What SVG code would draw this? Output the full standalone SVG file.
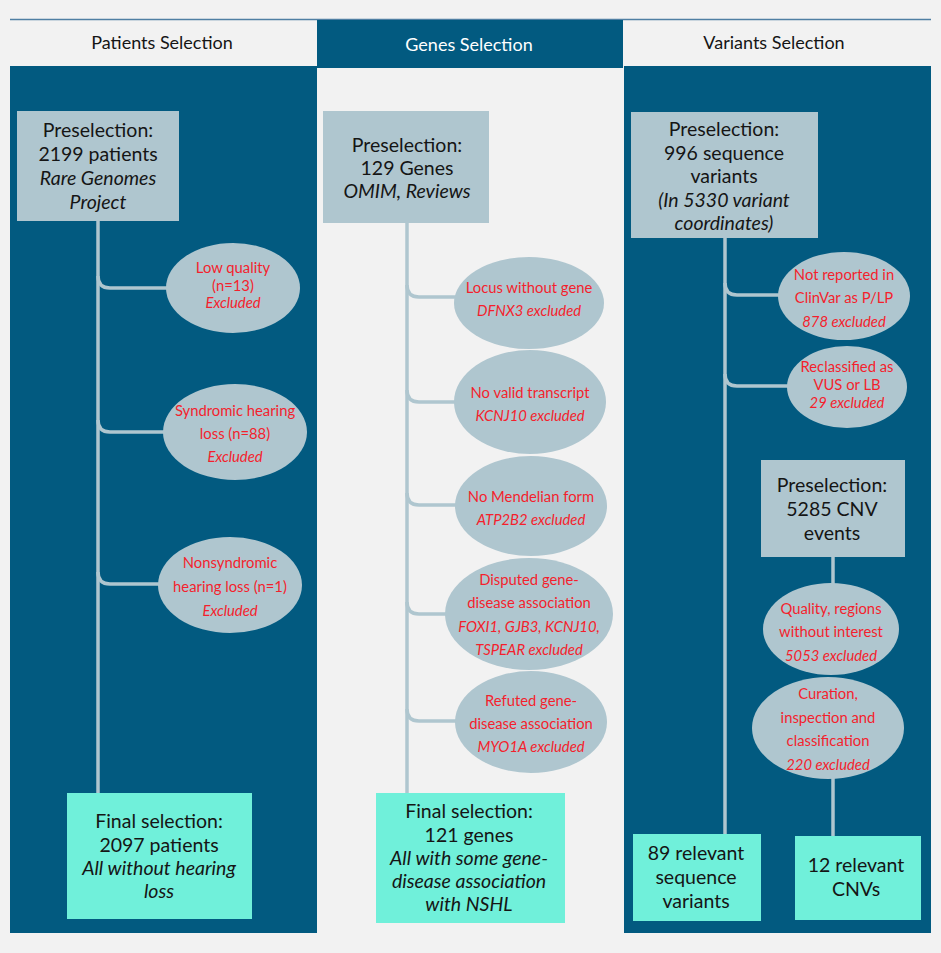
<svg xmlns="http://www.w3.org/2000/svg" width="941" height="953" viewBox="0 0 941 953">
<defs>
<style>
.bg{fill:#f2f2f2}
.col{fill:#025a80}
.box{fill:#afc6cf}
.fin{fill:#70f0da}
.t{font-family:Lato,"Open Sans","Liberation Sans",sans-serif;text-anchor:middle;fill:#151515}
.b{font-size:19.5px}
.h{font-size:18px}
.w{fill:#ffffff}
.r{font-size:14.8px;fill:#f41f2d}
.i{font-style:italic}
#connectors path{stroke:#afc6cf;stroke-width:3.5;fill:none}
</style>
</defs>
<rect class="bg" x="0" y="0" width="941" height="953"/>
<g id="columns">
<line x1="10" y1="19.5" x2="931" y2="19.5" stroke="#4f7fa3" stroke-width="1.5"/>
<rect class="col" x="10" y="66" width="307" height="867"/>
<rect class="col" x="317" y="20" width="306" height="48"/>
<rect class="col" x="624" y="66" width="307" height="867"/>
<text class="t h" x="162" y="49">Patients Selection</text>
<text class="t h w" x="469" y="51">Genes Selection</text>
<text class="t h" x="774" y="49">Variants Selection</text>
</g>
<g id="connectors">
<path d="M98,221 V793"/>
<path d="M98,276 Q98,288 110,288 H168"/>
<path d="M98,420 Q98,432 110,432 H165"/>
<path d="M98,572 Q98,584 110,584 H160"/>
<path d="M407,223 V793"/>
<path d="M407,285 Q407,297 419,297 H456"/>
<path d="M407,390 Q407,402 419,402 H456"/>
<path d="M407,493 Q407,505 419,505 H458"/>
<path d="M407,602 Q407,614 419,614 H447"/>
<path d="M407,709 Q407,721 419,721 H457"/>
<path d="M725,238 V834"/>
<path d="M725,283 Q725,295 737,295 H780"/>
<path d="M725,374 Q725,386 737,386 H789"/>
<path d="M833,557 V585"/>
<path d="M833,777 V836"/>
</g>
<g id="p_pre">
<rect class="box" x="17" y="111" width="162" height="110"/>
<text class="t b" x="98" y="137">Preselection:</text>
<text class="t b" x="98" y="161">2199 patients</text>
<text class="t b i" x="98" y="185">Rare Genomes</text>
<text class="t b i" x="98" y="209">Project</text>
</g>
<g id="p_low">
<ellipse class="box" cx="233" cy="288" rx="67" ry="45"/>
<text class="t r" x="233" y="273">Low quality</text>
<text class="t r" x="233" y="291">(n=13)</text>
<text class="t r i" x="233" y="308">Excluded</text>
</g>
<g id="p_synd">
<ellipse class="box" cx="235" cy="432" rx="72" ry="48"/>
<text class="t r" x="235" y="416">Syndromic hearing</text>
<text class="t r" x="235" y="439">loss (n=88)</text>
<text class="t r i" x="235" y="462">Excluded</text>
</g>
<g id="p_nonsynd">
<ellipse class="box" cx="230" cy="585" rx="72" ry="48"/>
<text class="t r" x="230" y="568">Nonsyndromic</text>
<text class="t r" x="230" y="592">hearing loss (n=1)</text>
<text class="t r i" x="230" y="616">Excluded</text>
</g>
<g id="p_final">
<rect class="fin" x="67" y="793" width="185" height="126"/>
<text class="t b" x="159" y="828">Final selection:</text>
<text class="t b" x="159" y="852">2097 patients</text>
<text class="t b i" x="159" y="875">All without hearing</text>
<text class="t b i" x="159" y="898">loss</text>
</g>
<g id="g_pre">
<rect class="box" x="323" y="111" width="166" height="112"/>
<text class="t b" x="407" y="152">Preselection:</text>
<text class="t b" x="407" y="175">129 Genes</text>
<text class="t b i" x="407" y="198">OMIM, Reviews</text>
</g>
<g id="g_locus">
<ellipse class="box" cx="529" cy="303" rx="75" ry="46"/>
<text class="t r" x="529" y="293">Locus without gene</text>
<text class="t r i" x="529" y="316">DFNX3 excluded</text>
</g>
<g id="g_transcript">
<ellipse class="box" cx="530" cy="402" rx="76" ry="52"/>
<text class="t r" x="530" y="398">No valid transcript</text>
<text class="t r i" x="530" y="421">KCNJ10 excluded</text>
</g>
<g id="g_mendel">
<ellipse class="box" cx="531" cy="506" rx="76" ry="50"/>
<text class="t r" x="531" y="502">No Mendelian form</text>
<text class="t r i" x="531" y="525">ATP2B2 excluded</text>
</g>
<g id="g_disputed">
<ellipse class="box" cx="529" cy="614" rx="84" ry="56"/>
<text class="t r" x="529" y="585">Disputed gene-</text>
<text class="t r" x="529" y="608">disease association</text>
<text class="t r i" x="529" y="632">FOXI1, GJB3, KCNJ10,</text>
<text class="t r i" x="529" y="655">TSPEAR excluded</text>
</g>
<g id="g_refuted">
<ellipse class="box" cx="531" cy="722" rx="76" ry="51"/>
<text class="t r" x="531" y="706">Refuted gene-</text>
<text class="t r" x="531" y="729">disease association</text>
<text class="t r i" x="531" y="752">MYO1A excluded</text>
</g>
<g id="g_final">
<rect class="fin" x="376" y="793" width="189" height="130"/>
<text class="t b" x="469" y="818">Final selection:</text>
<text class="t b" x="469" y="842">121 genes</text>
<text class="t b i" x="469" y="865">All with some gene-</text>
<text class="t b i" x="469" y="888">disease association</text>
<text class="t b i" x="469" y="911">with NSHL</text>
</g>
<g id="v_pre">
<rect class="box" x="631" y="112" width="187" height="126"/>
<text class="t b" x="724" y="136">Preselection:</text>
<text class="t b" x="724" y="160">996 sequence</text>
<text class="t b" x="724" y="183">variants</text>
<text class="t b i" x="724" y="207">(In 5330 variant</text>
<text class="t b i" x="724" y="230">coordinates)</text>
</g>
<g id="v_clinvar">
<ellipse class="box" cx="844" cy="296" rx="66" ry="44"/>
<text class="t r" x="844" y="280">Not reported in</text>
<text class="t r" x="844" y="303">ClinVar as P/LP</text>
<text class="t r i" x="844" y="327">878 excluded</text>
</g>
<g id="v_reclass">
<ellipse class="box" cx="847" cy="387" rx="60" ry="41"/>
<text class="t r" x="847" y="372">Reclassified as</text>
<text class="t r" x="847" y="390">VUS or LB</text>
<text class="t r i" x="847" y="408">29 excluded</text>
</g>
<g id="v_cnvpre">
<rect class="box" x="761" y="460" width="144" height="97"/>
<text class="t b" x="832" y="492">Preselection:</text>
<text class="t b" x="832" y="516">5285 CNV</text>
<text class="t b" x="832" y="540">events</text>
</g>
<g id="v_quality">
<ellipse class="box" cx="831" cy="629" rx="68" ry="46"/>
<text class="t r" x="831" y="614">Quality, regions</text>
<text class="t r" x="831" y="637">without interest</text>
<text class="t r i" x="831" y="661">5053 excluded</text>
</g>
<g id="v_curation">
<ellipse class="box" cx="828" cy="728" rx="76" ry="51"/>
<text class="t r" x="828" y="699">Curation,</text>
<text class="t r" x="828" y="723">inspection and</text>
<text class="t r" x="828" y="746">classification</text>
<text class="t r i" x="828" y="770">220 excluded</text>
</g>
<g id="v_seqfinal">
<rect class="fin" x="633" y="834" width="128" height="87"/>
<text class="t b" x="696" y="860">89 relevant</text>
<text class="t b" x="696" y="884">sequence</text>
<text class="t b" x="696" y="908">variants</text>
</g>
<g id="v_cnvfinal">
<rect class="fin" x="795" y="836" width="126" height="84"/>
<text class="t b" x="856" y="872">12 relevant</text>
<text class="t b" x="856" y="896">CNVs</text>
</g>
</svg>
